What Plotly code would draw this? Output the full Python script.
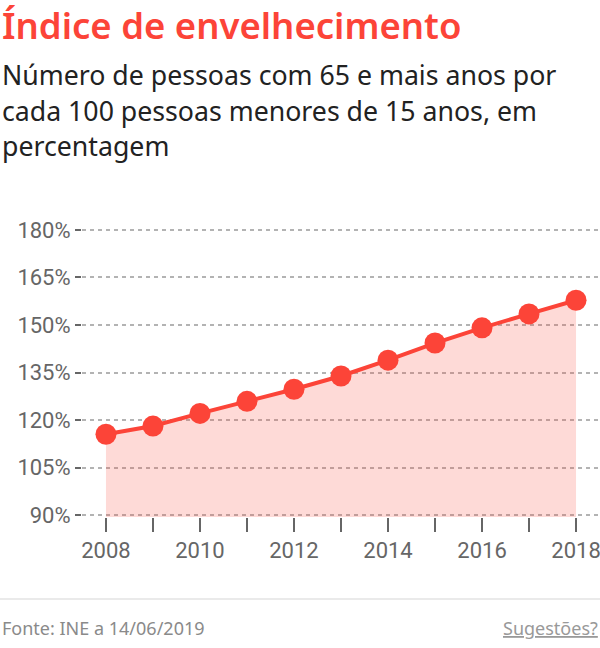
import plotly.graph_objects as go

anos = [2008, 2009, 2010, 2011, 2012, 2013, 2014, 2015, 2016, 2017, 2018]
indice = [115.5, 118.1, 122.1, 125.9, 129.7, 133.9, 138.9, 144.3, 149.1, 153.5, 157.8]
y_ticks = [90, 105, 120, 135, 150, 165, 180]
x_labels = ["2008", "", "2010", "", "2012", "", "2014", "", "2016", "", "2018"]

titulo = "Índice de envelhecimento"
subtitulo = ["Número de pessoas com 65 e mais anos por",
             "cada 100 pessoas menores de 15 anos, em",
             "percentagem"]
fonte = "Fonte: INE a 14/06/2019"
sugestoes = "Sugestões?"

W, H = 600, 648
L, R, T, B = 82, 0, 228, 131.4
PW, PH = W - L - R, H - T - B

VERMELHO = "#fc4438"
TXT_FONT = "Noto Sans"
NUM_FONT = "Roboto"


def px(x):
    return (x - L) / PW


def py(y):
    return (H - B - y) / PH


fig = go.Figure()
fig.add_scatter(x=anos, y=indice, mode="lines+markers",
                line=dict(color=VERMELHO, width=4),
                marker=dict(color=VERMELHO, size=21),
                fill="tozeroy", fillcolor="rgba(252,68,56,0.2)",
                hoverinfo="skip")

fig.update_layout(
    width=W, height=H, margin=dict(l=L, r=R, t=T, b=B),
    plot_bgcolor="white", paper_bgcolor="white", showlegend=False,
    xaxis=dict(range=[2007.49, 2018.51], tickvals=anos, ticktext=x_labels,
               ticks="outside", ticklen=14, tickwidth=2, tickcolor="#666",
               showgrid=False, zeroline=False, showline=False,
               ticklabeloverflow="allow",
               tickfont=dict(family=NUM_FONT, size=22, color="#666")),
    # um pouco de folga para as grelhas de 90% e 180% serem desenhadas
    yaxis=dict(range=[89.4, 180.6], tickvals=y_ticks,
               ticktext=[f"{v}%" for v in y_ticks],
               ticks="outside", ticklen=6, tickwidth=2, tickcolor="#666",
               showgrid=True, gridcolor="#b3b3b3", gridwidth=1.5, griddash="4px,4px",
               zeroline=False, showline=False, ticklabelstandoff=0,
               tickfont=dict(family=NUM_FONT, size=22, color="#666")),
)

ann = [dict(text=titulo, x=px(0), y=py(25), xanchor="left", yanchor="middle",
            font=dict(family=TXT_FONT, size=36.5, color=VERMELHO, weight=600))]
for i, linha in enumerate(subtitulo):
    ann.append(dict(text=linha, x=px(0), y=py(75 + i * 35.5), xanchor="left", yanchor="middle",
                    font=dict(family=TXT_FONT, size=26.7, color="#222")))
ann.append(dict(text=fonte, x=px(0), y=py(627), xanchor="left", yanchor="middle",
                font=dict(family=TXT_FONT, size=18, color="#8a8a8a")))
ann.append(dict(text=sugestoes, x=px(600), y=py(627), xanchor="right", yanchor="middle",
                font=dict(family=TXT_FONT, size=18, color="#999", lineposition="under")))
for a in ann:
    a.update(xref="paper", yref="paper", showarrow=False)
fig.update_layout(annotations=ann)

fig.add_shape(type="line", xref="paper", yref="paper", x0=px(0), x1=px(600),
              y0=py(598.5), y1=py(598.5), line=dict(color="#e3e3e3", width=1.5))

# sem margem no body, para a figura ficar encostada ao canto
fig.write_html("out.html", config={"displayModeBar": False},
               post_script="document.body.style.margin='0';")
